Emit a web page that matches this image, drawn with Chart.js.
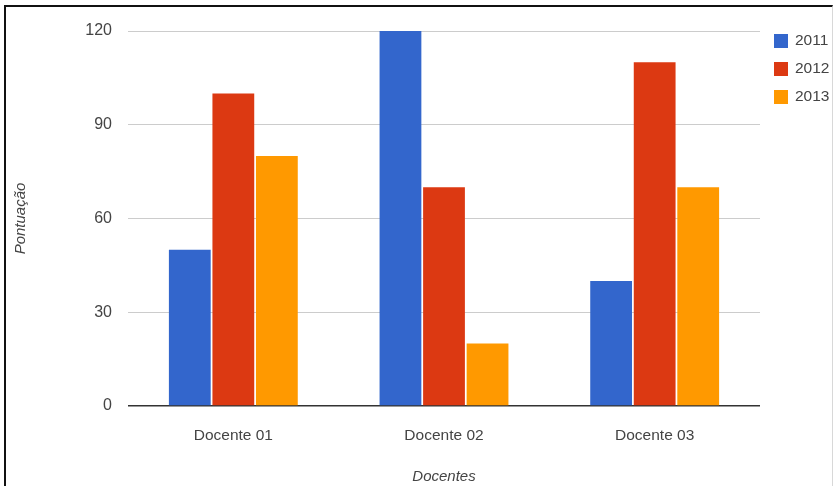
<!DOCTYPE html>
<html>
<head>
<meta charset="utf-8">
<script src="https://cdn.jsdelivr.net/npm/chart.js@4/dist/chart.umd.min.js"></script>
<style>
  html, body { margin: 0; padding: 0; background: #fff; }
  #wrap { position: relative; width: 834px; height: 486px; overflow: hidden; }
  #frame {
    position: absolute; left: 4px; top: 5px; width: 826px; height: 490px;
    border-top: 2px solid #111; border-left: 2px solid #111; border-right: 1px solid #d8d8d8;
    pointer-events: none;
  }
  canvas { position: absolute; left: 0; top: 0; }
</style>
</head>
<body>
<div id="wrap">
  <canvas id="c" width="834" height="486"></canvas>
  <div id="frame"></div>
</div>
<script>
const categories = ['Docente 01', 'Docente 02', 'Docente 03'];
const years = ['2011', '2012', '2013'];
const values2011 = [50, 120, 40];
const values2012 = [100, 70, 110];
const values2013 = [80, 20, 70];
const yTicks = [0, 30, 60, 90, 120];
const colors = ['#3366CC', '#DC3912', '#FF9900'];

const FONT = "'Liberation Sans', Arial, sans-serif";

// Legend at the right, one row per year
const sideLegend = {
  id: 'sideLegend',
  afterDraw(chart) {
    const ctx = chart.ctx;
    ctx.save();
    ctx.font = '15.5px ' + FONT;
    ctx.textBaseline = 'middle';
    ctx.textAlign = 'left';
    chart.data.datasets.forEach((ds, i) => {
      const cy = 41 + i * 28;
      ctx.fillStyle = ds.backgroundColor;
      ctx.fillRect(774, cy - 7, 14, 14);
      ctx.fillStyle = '#444';
      ctx.fillText(ds.label, 795, cy);
    });
    ctx.restore();
  }
};

new Chart(document.getElementById('c'), {
  type: 'bar',
  data: {
    labels: categories,
    datasets: [
      { label: years[0], data: values2011, backgroundColor: colors[0] },
      { label: years[1], data: values2012, backgroundColor: colors[1] },
      { label: years[2], data: values2013, backgroundColor: colors[2] }
    ]
  },
  options: {
    responsive: false,
    animation: false,
    devicePixelRatio: 1,
    layout: { padding: { left: 0, right: 74, top: 31, bottom: 0 } },
    datasets: { bar: { categoryPercentage: 0.62, barPercentage: 0.96 } },
    plugins: { legend: { display: false }, tooltip: { enabled: false } },
    scales: {
      x: {
        grid: { display: false },
        border: { display: false },
        ticks: { color: '#444', font: { family: FONT, size: 15.5 }, padding: 12, maxRotation: 0 },
        title: { display: true, text: 'Docentes', color: '#444',
                 font: { family: FONT, size: 15, style: 'italic' }, padding: { top: 0, bottom: 0 } },
        afterFit(scale) { scale.height = 80; }
      },
      y: {
        min: 0, max: 120,
        afterBuildTicks(scale) { scale.ticks = yTicks.map(v => ({ value: v })); },
        grid: {
          drawTicks: false,
          color: c => (c.tick && c.tick.value === 0 ? '#333' : '#cccccc'),
          lineWidth: c => (c.tick && c.tick.value === 0 ? 1.5 : 1)
        },
        border: { display: false },
        ticks: { color: '#444', font: { family: FONT, size: 16 }, padding: 16 },
        title: { display: true, text: 'Pontuação', color: '#444',
                 font: { family: FONT, size: 15, style: 'italic' }, padding: { top: 12, bottom: 0 } },
        afterFit(scale) { scale.width = 128; }
      }
    }
  },
  plugins: [sideLegend]
});
</script>
</body>
</html>
